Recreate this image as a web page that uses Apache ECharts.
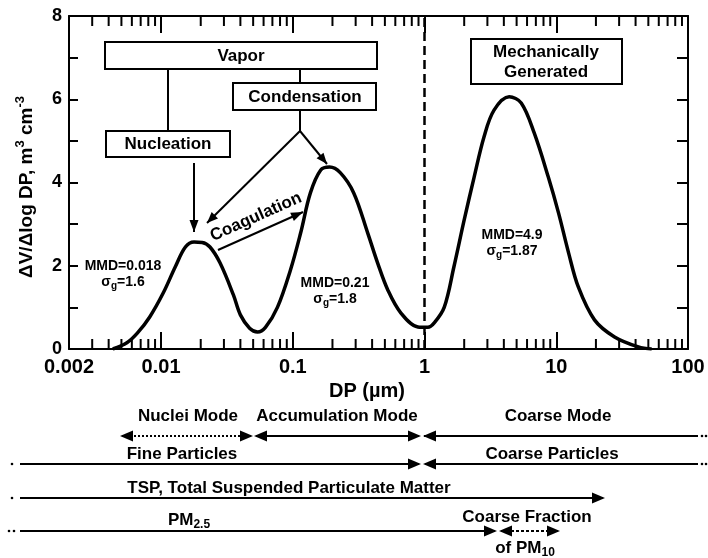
<!DOCTYPE html>
<html><head><meta charset="utf-8">
<script src="https://cdn.jsdelivr.net/npm/echarts@6/dist/echarts.min.js"></script>
<style>html,body{margin:0;padding:0;background:#fff}#c{width:708px;height:558px}</style>
</head><body><div id="c"></div>
<script>
// ---- data ----
const diameters = [0.0043,0.0055,0.0066,0.0082,0.0104,0.0128,0.0153,0.0178,0.0205,0.0235,0.028,0.0354,0.04,0.047,0.054,0.062,0.0764,0.096,0.1145,0.136,0.163,0.19,0.23,0.29,0.37,0.44,0.526,0.66,0.89,1.06,1.18,1.41,1.67,2.0,2.38,2.83,3.37,4.39,5.42,6.8,8.7,10.4,12.4,14.7,19.5,27.7,42,53];
const volumes   = [0.0,0.15,0.38,0.77,1.35,1.97,2.45,2.57,2.56,2.45,2.07,1.3,0.82,0.5,0.41,0.52,1.0,1.9,2.78,3.75,4.3,4.37,4.23,3.75,2.79,2.07,1.42,0.87,0.53,0.52,0.62,1.0,1.97,3.1,4.13,5.1,5.74,6.06,5.91,5.19,4.13,3.27,2.31,1.49,0.70,0.29,0.05,0.0];
const xMin = 0.002, xMax = 100, yMin = 0, yMax = 8;
const xMinorTicks = [0.003,0.004,0.005,0.006,0.007,0.008,0.009,0.02,0.03,0.04,0.05,0.06,0.07,0.08,0.09,0.2,0.3,0.4,0.5,0.6,0.7,0.8,0.9,2,3,4,5,6,7,8,9,20,30,40,50,60,70,80,90];
const dividerDiameter = 1;
const modeLabels = [
  {mmd:'MMD=0.018', sg:'1.6', x:123, y:266},
  {mmd:'MMD=0.21',  sg:'1.8', x:335, y:283},
  {mmd:'MMD=4.9',   sg:'1.87', x:512, y:235}
];

const FONT = '"Liberation Sans", Arial, Helvetica, sans-serif';
const ctx = document.createElement('canvas').getContext('2d');
function tw(t, size){ ctx.font = 'bold ' + size + 'px ' + FONT; return ctx.measureText(t).width; }
// build text pieces with sub/superscripts, centred at (0,0) of a group
function pieces(parts, size){
  const small = Math.round(size*0.7);
  let total = 0;
  parts.forEach(p => { p.s = p.sub||p.sup ? small : size; p.w = tw(p.t, p.s); total += p.w; });
  let x = -total/2; const out = [];
  parts.forEach(p => {
    out.push({type:'text', x:x, y:(p.sub? size*0.3 : p.sup ? -size*0.35 : 0),
      style:{text:p.t, font:'bold '+p.s+'px '+FONT, fill:'#000', align:'left', verticalAlign:'middle'}});
    x += p.w;
  });
  return out;
}
function label(x,y,parts,size,rot){ return {type:'group', x:x, y:y, rotation:rot||0, children:pieces(parts,size)}; }
function txt(x,y,t,size,rot){ return label(x,y,[{t:t}],size,rot); }
function line(x1,y1,x2,y2,w,dash){ return {type:'line', shape:{x1,y1,x2,y2}, style:{stroke:'#000', lineWidth:w||2, lineDash:dash||null}}; }
function head(x1,y1,x2,y2,len,wid){
  const a = Math.atan2(y2-y1,x2-x1), bx = x2-len*Math.cos(a), by = y2-len*Math.sin(a);
  const px = -Math.sin(a)*wid/2, py = Math.cos(a)*wid/2;
  return {type:'polygon', shape:{points:[[x2,y2],[bx+px,by+py],[bx-px,by-py]]}, style:{fill:'#000'}};
}
function arrow(x1,y1,x2,y2,w,len,wid){ return [line(x1,y1,x2,y2,w), head(x1,y1,x2,y2,len||10,wid||8)]; }
function box(x1,y1,x2,y2){ return {type:'rect', shape:{x:x1,y:y1,width:x2-x1,height:y2-y1}, style:{fill:'#fff', stroke:'#000', lineWidth:2}}; }
function dot(x,y){ return {type:'circle', shape:{cx:x,cy:y,r:1.3}, style:{fill:'#000'}}; }

const g = [];
// annotation boxes and connectors
g.push(line(168,69,168,131), line(300,69,300,83), line(300,110,300,131));
g.push(box(105,42,377,69), txt(241,56,'Vapor',17));
g.push(box(106,131,230,157), txt(168,144,'Nucleation',17));
g.push(box(233,83,376,110), txt(305,97,'Condensation',17));
g.push(box(471,39,622,84), txt(546,52,'Mechanically',17), txt(546,72,'Generated',17));
g.push(...arrow(300,131,327,164,2,11,9));
g.push(...arrow(300,131,207,223,2,11,9));
g.push(...arrow(194,163,194,232,2,12,9));
g.push(...arrow(218,250,303,212,2,12,9));
g.push(txt(256,217,'Coagulation',17, 24*Math.PI/180));
// mode statistics
modeLabels.forEach(m => {
  g.push(txt(m.x, m.y, m.mmd, 14));
  g.push(label(m.x, m.y+16, [{t:'σ'},{t:'g',sub:true},{t:'='+m.sg}], 14));
});
// axis titles
g.push(label(27,187,[{t:'ΔV/Δlog DP, m'},{t:'3',sup:true},{t:' cm'},{t:'-3',sup:true}],19, Math.PI/2));
g.push(txt(367,391,'DP (µm)',20));
// size-range rows
const r1 = 436, r2 = 464, r3 = 498, r4 = 531;
g.push(line(122,r1,251,r1,2,[2,2]), head(251,r1,120,r1,13,11), head(122,r1,253,r1,13,11));
g.push(line(256,r1,419,r1,2), head(419,r1,254,r1,13,11), head(256,r1,421,r1,13,11));
g.push(line(424,r1,698,r1,1.8), head(698,r1,423,r1,13,11), dot(702,r1), dot(706,r1));
g.push(txt(188,416,'Nuclei Mode',17), txt(337,416,'Accumulation Mode',17), txt(558,416,'Coarse Mode',17));
g.push(dot(12,r2), line(20,r2,419,r2,2), head(20,r2,421,r2,13,11));
g.push(line(425,r2,698,r2,2), head(698,r2,423,r2,13,11), dot(702,r2), dot(706,r2));
g.push(txt(182,454,'Fine Particles',17), txt(552,454,'Coarse Particles',17));
g.push(dot(12,r3), line(20,r3,603,r3,2), head(20,r3,605,r3,13,11));
g.push(txt(289,488,'TSP, Total Suspended Particulate Matter',17));
g.push(dot(9,r4), dot(14,r4), line(20,r4,495,r4,2), head(20,r4,497,r4,13,11));
g.push(line(501,r4,558,r4,2,[3,2]), head(558,r4,499,r4,13,11), head(501,r4,560,r4,13,11));
g.push(label(189,520,[{t:'PM'},{t:'2.5',sub:true}],17));
g.push(txt(527,517,'Coarse Fraction',17));
g.push(label(525,548,[{t:'of PM'},{t:'10',sub:true}],17));

const chart = echarts.init(document.getElementById('c'), null, {renderer:'canvas'});
const axisLineStyle = {show:true, onZero:false, lineStyle:{color:'#000', width:2}};
chart.setOption({
  animation:false,
  backgroundColor:'#fff',
  grid:{left:69, right:20, top:16, bottom:209, containLabel:false},
  xAxis:[
    {type:'log', logBase:10, min:xMin, max:xMax, position:'bottom', axisLine:axisLineStyle,
     axisTick:{show:true, inside:true, length:17, lineStyle:{color:'#000', width:2}},
     splitLine:{show:false},
     axisLabel:{margin:8, color:'#000', fontFamily:FONT, fontWeight:'bold', fontSize:20,
       showMinLabel:true, showMaxLabel:true,
       formatter:v => String(parseFloat(Number(v).toPrecision(6)))}},
    {type:'log', logBase:10, min:xMin, max:xMax, position:'top', axisLine:axisLineStyle,
     axisTick:{show:true, inside:true, length:17, lineStyle:{color:'#000', width:2}},
     splitLine:{show:false}, axisLabel:{show:false}}
  ],
  yAxis:[
    {type:'value', min:yMin, max:yMax, interval:2, position:'left', axisLine:axisLineStyle,
     axisTick:{show:true, inside:true, length:9, lineStyle:{color:'#000', width:2}},
     minorTick:{show:true, splitNumber:2, length:9, lineStyle:{color:'#000', width:2}},
     splitLine:{show:false},
     axisLabel:{margin:7, color:'#000', fontFamily:FONT, fontWeight:'bold', fontSize:18}},
    {type:'value', min:yMin, max:yMax, interval:2, position:'right', axisLine:axisLineStyle,
     axisTick:{show:true, inside:true, length:11, lineStyle:{color:'#000', width:2}},
     minorTick:{show:true, splitNumber:2, length:11, lineStyle:{color:'#000', width:2}},
     splitLine:{show:false}, axisLabel:{show:false}}
  ],
  series:[
    {type:'line', xAxisIndex:0, yAxisIndex:0, data:diameters.map((d,i)=>[d, volumes[i]]),
     smooth:0.35, showSymbol:false, silent:true,
     lineStyle:{color:'#000', width:3.5},
     markLine:{silent:true, symbol:'none', label:{show:false},
       lineStyle:{color:'#000', width:2.5, type:[9,5]}, data:[{xAxis:dividerDiameter}]}},
    {type:'custom', xAxisIndex:0, yAxisIndex:0, silent:true,
     data:xMinorTicks.map(v=>[v, yMin]),
     renderItem:function(params, api){
       const v = api.value(0);
       const b = api.coord([v, yMin]), t = api.coord([v, yMax]);
       return {type:'group', children:[
         {type:'line', shape:{x1:b[0], y1:b[1], x2:b[0], y2:b[1]-10}, style:{stroke:'#000', lineWidth:2}},
         {type:'line', shape:{x1:t[0], y1:t[1], x2:t[0], y2:t[1]+10}, style:{stroke:'#000', lineWidth:2}}
       ]};
     }}
  ],
  graphic:{elements:g}
});
</script></body></html>
